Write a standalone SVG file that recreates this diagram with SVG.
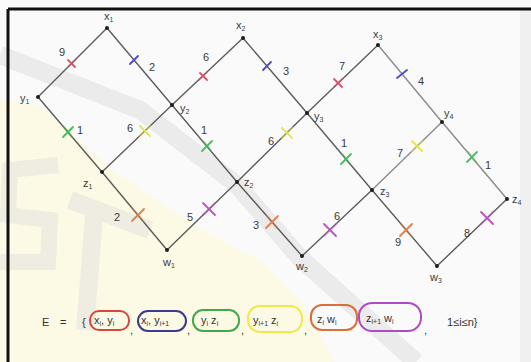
<svg xmlns="http://www.w3.org/2000/svg" width="531" height="362" viewBox="0 0 531 362">
<style>
.edge{stroke:#5c5c5c;stroke-width:1.4;fill:none;stroke-linecap:round}
.lt{stroke:#8a8a8a}
.dot{fill:#1e1e1e}
.lbl{font-family:"Liberation Sans",Arial,sans-serif;font-size:11px;fill:#3a3a3a}
.w{font-family:"Liberation Sans",Arial,sans-serif;font-size:11px;fill:#3a3a3a;text-anchor:middle}
.sub{font-size:7px}
.tk{stroke-width:1.8;stroke-linecap:round;fill:none}
.al{stroke-width:2.2;stroke-linecap:round;fill:none;opacity:0.45}
.red{stroke:#e0506a}.blue{stroke:#4a4ad0}.green{stroke:#45bf5c}.yel{stroke:#e6e650}.ora{stroke:#e0804e}.mag{stroke:#c050c4}
.ring{fill:none;stroke-width:2}
.lg{font-family:"Liberation Sans",Arial,sans-serif;font-size:11px;fill:#333}
</style>
<g id="background">
<rect x="0" y="0" width="531" height="362" fill="#fafafa"/>
<polygon points="0,98 45,108 110,168 200,228 262,262 300,300 335,362 0,362" fill="#fcf9e4"/>
<polyline points="0,55 140,110 237,185 300,258 416,362" fill="none" stroke="#dcdcdc" stroke-width="18" opacity="0.5"/>
<path d="M58,165 L10,170 L8,215 L50,220 L48,262 L0,262" fill="none" stroke="#dcdcdc" stroke-width="16" opacity="0.4"/>
<path d="M70,200 L150,230 M95,205 L85,330" fill="none" stroke="#dcdcdc" stroke-width="18" opacity="0.4"/>
<rect x="520" y="10" width="11" height="352" fill="#e6e6e6" opacity="0.5"/>
<path d="M8,9 L531,9 M8,9 L8,362" stroke="#111" stroke-width="3" fill="none"/>
</g>
<g id="connectors">
<line class="edge" x1="38" y1="97" x2="107" y2="28"/>
<line class="edge" x1="107" y1="28" x2="172" y2="105"/>
<line class="edge" x1="172" y1="105" x2="243" y2="38"/>
<line class="edge" x1="243" y1="38" x2="307" y2="113"/>
<line class="edge" x1="307" y1="113" x2="378" y2="45"/>
<line class="edge lt" x1="378" y1="45" x2="442" y2="122"/>
<line class="edge" x1="38" y1="97" x2="102" y2="172"/>
<line class="edge" x1="102" y1="172" x2="172" y2="105"/>
<line class="edge" x1="172" y1="105" x2="237" y2="182"/>
<line class="edge" x1="237" y1="182" x2="307" y2="113"/>
<line class="edge" x1="307" y1="113" x2="372" y2="190"/>
<line class="edge lt" x1="372" y1="190" x2="442" y2="122"/>
<line class="edge lt" x1="442" y1="122" x2="507" y2="199"/>
<line class="edge" x1="102" y1="172" x2="167" y2="250"/>
<line class="edge" x1="167" y1="250" x2="237" y2="182"/>
<line class="edge" x1="237" y1="182" x2="302" y2="256"/>
<line class="edge" x1="302" y1="256" x2="372" y2="190"/>
<line class="edge" x1="372" y1="190" x2="437" y2="266"/>
<line class="edge" x1="437" y1="266" x2="507" y2="199"/>
<line class="al red" x1="68" y1="67" x2="76" y2="59"/><line class="tk red" x1="68" y1="60" x2="75" y2="67"/>
<line class="tk blue" x1="130" y1="64" x2="138" y2="56"/>
<line class="al red" x1="199" y1="80" x2="207" y2="72"/><line class="tk red" x1="200" y1="73" x2="207" y2="80"/>
<line class="tk blue" x1="263" y1="70" x2="271" y2="62"/>
<line class="al red" x1="334" y1="87" x2="342" y2="79"/><line class="tk red" x1="334" y1="79" x2="342" y2="87"/>
<line class="tk blue" x1="397" y1="78" x2="407" y2="70"/>
<line class="al green" x1="64" y1="127" x2="72" y2="137"/><line class="tk green" x1="63" y1="137" x2="73" y2="127"/>
<line class="al yel" x1="140" y1="136" x2="150" y2="126"/><line class="tk yel" x1="140" y1="126" x2="150" y2="136"/>
<line class="al green" x1="203" y1="141" x2="211" y2="151"/><line class="tk green" x1="202" y1="151" x2="212" y2="141"/>
<line class="al yel" x1="282" y1="138" x2="292" y2="128"/><line class="tk yel" x1="282" y1="128" x2="292" y2="138"/>
<line class="al green" x1="342" y1="154" x2="350" y2="164"/><line class="tk green" x1="341" y1="164" x2="351" y2="154"/>
<line class="al yel" x1="412" y1="151" x2="422" y2="141"/><line class="tk yel" x1="412" y1="141" x2="422" y2="151"/>
<line class="al green" x1="468" y1="152" x2="476" y2="162"/><line class="tk green" x1="467" y1="162" x2="477" y2="152"/>
<line class="al ora" x1="133" y1="209" x2="143" y2="221"/><line class="tk ora" x1="132" y1="221" x2="144" y2="209"/>
<line class="al mag" x1="203" y1="215" x2="215" y2="203"/><line class="tk mag" x1="203" y1="203" x2="215" y2="215"/>
<line class="al ora" x1="267" y1="216" x2="277" y2="228"/><line class="tk ora" x1="266" y1="228" x2="278" y2="216"/>
<line class="al mag" x1="324" y1="236" x2="336" y2="224"/><line class="tk mag" x1="324" y1="224" x2="336" y2="236"/>
<line class="al ora" x1="401" y1="224" x2="411" y2="236"/><line class="tk ora" x1="400" y1="236" x2="412" y2="224"/>
<line class="al mag" x1="481" y1="224" x2="493" y2="212"/><line class="tk mag" x1="481" y1="212" x2="493" y2="224"/>
<text class="w" x="62" y="56">9</text>
<text class="w" x="152" y="71">2</text>
<text class="w" x="206" y="61">6</text>
<text class="w" x="286" y="75">3</text>
<text class="w" x="342" y="70">7</text>
<text class="w" x="421" y="85">4</text>
<text class="w" x="80" y="134">1</text>
<text class="w" x="130" y="132">6</text>
<text class="w" x="204" y="134">1</text>
<text class="w" x="271" y="145">6</text>
<text class="w" x="344" y="147">1</text>
<text class="w" x="400" y="157">7</text>
<text class="w" x="488" y="169">1</text>
<text class="w" x="117" y="221">2</text>
<text class="w" x="190" y="221">5</text>
<text class="w" x="256" y="229">3</text>
<text class="w" x="337" y="220">6</text>
<text class="w" x="398" y="246">9</text>
<text class="w" x="467" y="237">8</text>
</g>
<g id="x1"><circle class="dot" cx="107" cy="28" r="2"/><text class="lbl" x="104" y="20">x<tspan class="sub" dy="2">1</tspan></text></g>
<g id="x2"><circle class="dot" cx="243" cy="38" r="2"/><text class="lbl" x="236" y="29">x<tspan class="sub" dy="2">2</tspan></text></g>
<g id="x3"><circle class="dot" cx="378" cy="45" r="2"/><text class="lbl" x="373" y="38">x<tspan class="sub" dy="2">3</tspan></text></g>
<g id="y1"><circle class="dot" cx="38" cy="97" r="2"/><text class="lbl" x="20" y="102">y<tspan class="sub" dy="2">1</tspan></text></g>
<g id="y2"><circle class="dot" cx="172" cy="105" r="2"/><text class="lbl" x="180" y="112">y<tspan class="sub" dy="2">2</tspan></text></g>
<g id="y3"><circle class="dot" cx="307" cy="113" r="2"/><text class="lbl" x="314" y="120">y<tspan class="sub" dy="2">3</tspan></text></g>
<g id="y4"><circle class="dot" cx="442" cy="122" r="2"/><text class="lbl" x="444" y="117">y<tspan class="sub" dy="2">4</tspan></text></g>
<g id="z1"><circle class="dot" cx="102" cy="172" r="2"/><text class="lbl" x="83" y="187">z<tspan class="sub" dy="2">1</tspan></text></g>
<g id="z2"><circle class="dot" cx="237" cy="182" r="2"/><text class="lbl" x="244" y="186">z<tspan class="sub" dy="2">2</tspan></text></g>
<g id="z3"><circle class="dot" cx="372" cy="190" r="2"/><text class="lbl" x="380" y="195">z<tspan class="sub" dy="2">3</tspan></text></g>
<g id="z4"><circle class="dot" cx="507" cy="199" r="2"/><text class="lbl" x="512" y="203">z<tspan class="sub" dy="2">4</tspan></text></g>
<g id="w1"><circle class="dot" cx="167" cy="250" r="2"/><text class="lbl" x="163" y="266">w<tspan class="sub" dy="2">1</tspan></text></g>
<g id="w2"><circle class="dot" cx="302" cy="256" r="2"/><text class="lbl" x="296" y="270">w<tspan class="sub" dy="2">2</tspan></text></g>
<g id="w3"><circle class="dot" cx="437" cy="266" r="2"/><text class="lbl" x="430" y="281">w<tspan class="sub" dy="2">3</tspan></text></g>
<g id="legend">
<text class="lg" y="326" font-size="12"><tspan x="42">E</tspan><tspan x="60">=</tspan><tspan x="82">{</tspan></text>
<rect class="ring" x="90" y="311" width="39" height="19" rx="9" stroke="#d8453c"/>
<text class="lg" x="94" y="324">x<tspan class="sub" dy="2">i</tspan><tspan dy="-2">, y</tspan><tspan class="sub" dy="2">i</tspan></text>
<text class="lg" x="130" y="334">,</text>
<rect class="ring" x="138" y="311" width="48" height="20" rx="10" stroke="#3b3b8f"/>
<text class="lg" x="141" y="324">x<tspan class="sub" dy="2">i</tspan><tspan dy="-2">, y</tspan><tspan class="sub" dy="2">i+1</tspan></text>
<text class="lg" x="187" y="334">,</text>
<rect class="ring" x="193" y="310" width="46" height="21" rx="10" stroke="#42a94b"/>
<text class="lg" x="201" y="324">y<tspan class="sub" dy="2">i</tspan><tspan dy="-2"> z</tspan><tspan class="sub" dy="2">i</tspan></text>
<text class="lg" x="241" y="334">,</text>
<rect class="ring" x="248" y="306" width="54" height="26" rx="12" stroke="#eeea4a" stroke-width="3"/>
<text class="lg" x="253" y="324">y<tspan class="sub" dy="2">i+1</tspan><tspan dy="-2"> z</tspan><tspan class="sub" dy="2">i</tspan></text>
<text class="lg" x="304" y="334">,</text>
<rect class="ring" x="311" y="305" width="46" height="25" rx="11" stroke="#d9703a"/>
<text class="lg" x="317" y="323">z<tspan class="sub" dy="2">i</tspan><tspan dy="-2"> w</tspan><tspan class="sub" dy="2">i</tspan></text>
<rect class="ring" x="359" y="303" width="62" height="28" rx="13" stroke="#b14bc4"/>
<text class="lg" x="366" y="322">z<tspan class="sub" dy="2">i+1</tspan><tspan dy="-2"> w</tspan><tspan class="sub" dy="2">i</tspan></text>
<text class="lg" x="424" y="334">,</text>
<text class="lg" x="447" y="326">1≤i≤n}</text>
</g>
</svg>
